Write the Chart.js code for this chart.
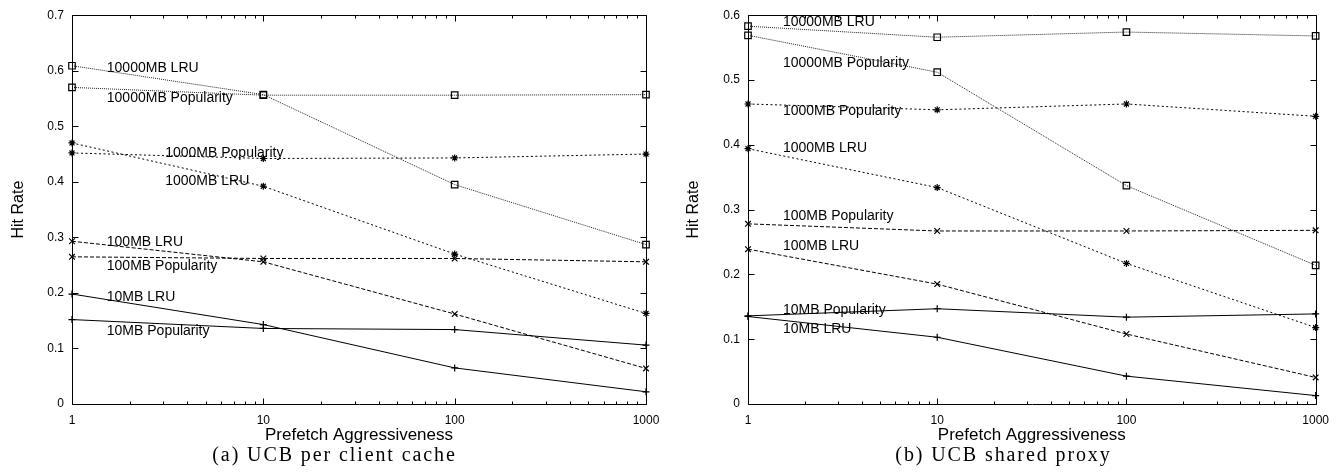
<!DOCTYPE html>
<html>
<head>
<meta charset="utf-8">
<script src="https://cdn.jsdelivr.net/npm/chart.js@4.4.1/dist/chart.umd.min.js"></script>
<style>
  html, body { margin: 0; padding: 0; background: #fff; }
  #wrap { position: relative; width: 1338px; height: 473px; overflow: hidden; }
  canvas { position: absolute; top: 0; }
  .cap { position: absolute; top: 444px; width: 669px; text-align: center;
         font-family: "Liberation Serif", serif; font-size: 20px; line-height: 20px;
         letter-spacing: 1.9px; color: #000; }
</style>
</head>
<body>
<div id="wrap">
  <canvas id="ca" width="669" height="473" style="left:0"></canvas>
  <canvas id="cb" width="669" height="473" style="left:669px"></canvas>
  <div class="cap" style="left:0">(a) UCB per client cache</div>
  <div class="cap" style="left:669px">(b) UCB shared proxy</div>
</div>
<script>
// ---- data ----
const xValues = [1, 10, 100, 1000];
const xTickLabels = [1, 10, 100, 1000];
const seriesNames = ['10MB LRU', '10MB Popularity', '100MB LRU', '100MB Popularity',
                     '1000MB LRU', '1000MB Popularity', '10000MB LRU', '10000MB Popularity'];

// (a) UCB per client cache
const a_10MB_LRU      = [0.198, 0.143, 0.065, 0.022];
const a_10MB_Pop      = [0.152, 0.136, 0.134, 0.106];
const a_100MB_LRU     = [0.293, 0.256, 0.162, 0.064];
const a_100MB_Pop     = [0.265, 0.262, 0.262, 0.256];
const a_1000MB_LRU    = [0.470, 0.392, 0.270, 0.163];
const a_1000MB_Pop    = [0.452, 0.442, 0.443, 0.450];
const a_10000MB_LRU   = [0.609, 0.557, 0.395, 0.287];
const a_10000MB_Pop   = [0.570, 0.556, 0.556, 0.557];
const a_yTicks = [0, 0.1, 0.2, 0.3, 0.4, 0.5, 0.6, 0.7];

// (b) UCB shared proxy
const b_10MB_LRU      = [0.135, 0.103, 0.043, 0.013];
const b_10MB_Pop      = [0.136, 0.147, 0.134, 0.139];
const b_100MB_LRU     = [0.239, 0.185, 0.108, 0.041];
const b_100MB_Pop     = [0.278, 0.267, 0.267, 0.268];
const b_1000MB_LRU    = [0.394, 0.334, 0.217, 0.118];
const b_1000MB_Pop    = [0.463, 0.454, 0.463, 0.444];
const b_10000MB_LRU   = [0.583, 0.566, 0.574, 0.568];
const b_10000MB_Pop   = [0.569, 0.512, 0.337, 0.214];
const b_yTicks = [0, 0.1, 0.2, 0.3, 0.4, 0.5, 0.6];

// in-plot series labels (data coordinates of text anchor)
const a_labelX = [1.52, 1.52, 1.52, 1.52, 3.07, 3.07, 1.52, 1.52];
const a_labelY = [0.185, 0.125, 0.285, 0.242, 0.394, 0.445, 0.597, 0.544];
const b_labelX = [1.53, 1.53, 1.53, 1.53, 1.53, 1.53, 1.53, 1.53];
const b_labelY = [0.109, 0.139, 0.238, 0.284, 0.389, 0.446, 0.584, 0.520];

// ---- styles ----
const styles = [
  { dash: [], point: 'cross', r: 3.5 },
  { dash: [], point: 'cross', r: 3.5 },
  { dash: [4, 2], point: 'crossRot', r: 4 },
  { dash: [4, 2], point: 'crossRot', r: 4 },
  { dash: [2, 2.5], point: 'star', r: 3.5 },
  { dash: [2, 2.5], point: 'star', r: 3.5 },
  { dash: [1, 1], point: 'rect', r: 4.6 },
  { dash: [1, 1], point: 'rect', r: 4.6 },
];

function makeDatasets(arrs) {
  return arrs.map((arr, i) => ({
    label: seriesNames[i],
    data: xValues.map((x, j) => ({ x: x, y: arr[j] })),
    borderColor: i >= 6 ? '#222' : '#000',
    borderWidth: 1,
    borderDash: styles[i].dash,
    pointStyle: styles[i].point,
    pointRadius: styles[i].r,
    pointBorderColor: '#000',
    pointBorderWidth: 1.2,
    pointBackgroundColor: 'rgba(0,0,0,0)',
    fill: false,
    tension: 0,
    clip: false
  }));
}

const framePlugin = {
  id: 'frame',
  afterDatasetsDraw(chart) {
    const ctx = chart.ctx;
    const a = chart.chartArea;
    const xs = chart.scales.x, ys = chart.scales.y;
    ctx.save();
    ctx.strokeStyle = '#000';
    ctx.lineWidth = 1;
    ctx.setLineDash([]);
    ctx.beginPath();
    const L = Math.round(a.left) + 0.5, R = Math.round(a.right) + 0.5;
    const T = Math.round(a.top) + 0.5, B = Math.round(a.bottom) + 0.5;
    ctx.rect(L, T, R - L, B - T);
    ys.ticks.forEach(t => {
      const y = Math.round(ys.getPixelForValue(t.value)) + 0.5;
      ctx.moveTo(L, y); ctx.lineTo(L + 6, y);
      ctx.moveTo(R, y); ctx.lineTo(R - 6, y);
    });
    for (let d = 1; d <= 1000; d *= 10) {
      for (let m = 1; m <= 9; m++) {
        const v = d * m;
        if (v > 1000) break;
        const x = Math.round(xs.getPixelForValue(v)) + 0.5;
        const len = m === 1 ? 6 : 3;
        ctx.moveTo(x, B); ctx.lineTo(x, B - len);
        ctx.moveTo(x, T); ctx.lineTo(x, T + len);
      }
    }
    ctx.stroke();
    const cfg = chart.options.plugins.frame;
    ctx.fillStyle = '#000';
    ctx.font = '14px "Liberation Sans", Arial, sans-serif';
    ctx.textAlign = 'left';
    ctx.textBaseline = 'alphabetic';
    seriesNames.forEach((name, i) => {
      ctx.fillText(name, xs.getPixelForValue(cfg.lx[i]), ys.getPixelForValue(cfg.ly[i]));
    });
    ctx.restore();
  }
};

function makeChart(id, arrs, yTicks, yMax, lx, ly, leftW, rightPad, yTitlePad) {
  return new Chart(document.getElementById(id), {
    type: 'line',
    data: { datasets: makeDatasets(arrs) },
    plugins: [framePlugin],
    options: {
      responsive: false,
      animation: false,
      events: [],
      layout: { padding: { top: 15, right: rightPad, left: 0, bottom: 0 } },
      plugins: {
        legend: { display: false },
        tooltip: { enabled: false },
        frame: { lx: lx, ly: ly }
      },
      scales: {
        x: {
          type: 'logarithmic',
          min: 1, max: 1000,
          grid: { display: false, drawTicks: false },
          border: { display: false },
          afterFit: s => { s.height = 69; },
          afterBuildTicks: s => {
            const t = [];
            for (let d = 1; d <= 1000; d *= 10) t.push({ value: d });
            s.ticks = t;
          },
          ticks: {
            autoSkip: false, maxRotation: 0, padding: 9, color: '#000',
            font: { family: '"Liberation Sans", Arial, sans-serif', size: 12 },
            callback: v => xTickLabels.includes(v) ? String(v) : ''
          },
          title: {
            display: true, text: 'Prefetch Aggressiveness', color: '#000',
            font: { family: '"Liberation Sans", Arial, sans-serif', size: 17 },
            padding: { top: 0, bottom: 27 }
          }
        },
        y: {
          type: 'linear',
          min: 0, max: yMax,
          grid: { display: false, drawTicks: false },
          border: { display: false },
          afterFit: s => { s.width = leftW; },
          afterBuildTicks: s => { s.ticks = yTicks.map(v => ({ value: v })); },
          ticks: {
            padding: 8, color: '#000',
            font: { family: '"Liberation Sans", Arial, sans-serif', size: 12 },
            callback: v => String(Math.round(v * 10) / 10)
          },
          title: {
            display: true, text: 'Hit Rate', color: '#000',
            font: { family: '"Liberation Sans", Arial, sans-serif', size: 16 },
            padding: { top: yTitlePad, bottom: 0 }
          }
        }
      }
    }
  });
}

makeChart('ca',
  [a_10MB_LRU, a_10MB_Pop, a_100MB_LRU, a_100MB_Pop, a_1000MB_LRU, a_1000MB_Pop, a_10000MB_LRU, a_10000MB_Pop],
  a_yTicks, 0.7, a_labelX, a_labelY, 72, 23, 9);
makeChart('cb',
  [b_10MB_LRU, b_10MB_Pop, b_100MB_LRU, b_100MB_Pop, b_1000MB_LRU, b_1000MB_Pop, b_10000MB_LRU, b_10000MB_Pop],
  b_yTicks, 0.6, b_labelX, b_labelY, 79, 16, 15);
</script>
</body>
</html>
